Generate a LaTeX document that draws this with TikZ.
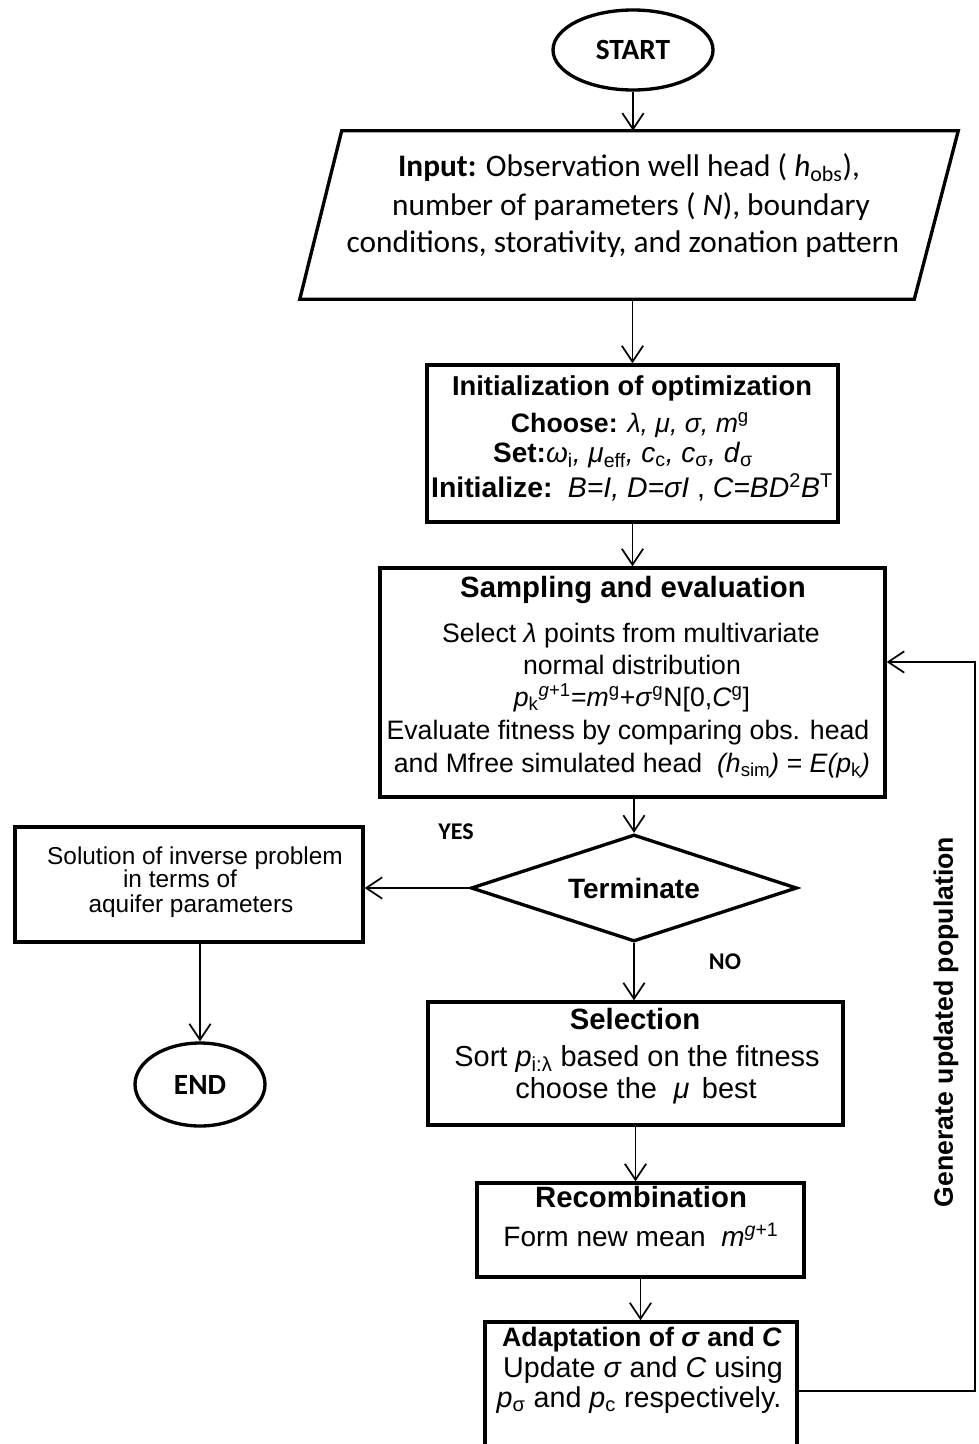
\documentclass[tikz,border=0pt]{standalone}
\usepackage{fontspec}
\setmainfont{Liberation Sans}
\newfontfamily\calibri{Carlito}
\usetikzlibrary{arrows.meta,shapes.geometric}
\newcommand\setfs[1]{\fontsize{#1}{#1}\selectfont}
\begin{document}
\begin{tikzpicture}[x=0.75pt,y=-0.75pt,
  box/.style={draw, line width=2.5pt, rectangle, inner sep=0pt},
  oval/.style={draw, ellipse, line width=2.5pt, inner sep=0pt, font=\calibri\bfseries\setfs{22}},
  txt/.style={inner sep=0pt, text height=0.72em, text depth=0pt},
  arr/.style={line width=1.3pt, -{Straight Barb[length=12pt,width=16pt]}},
  lbl/.style={txt, font=\calibri\bfseries\setfs{18}},
]
\useasboundingbox (0,0) rectangle (978,1444);
\clip (0,0) rectangle (978,1444);

% START
\node[oval, minimum width=120pt, minimum height=60pt] (start) at (633,50) {START};

% Input parallelogram
\node[inner sep=0pt, minimum width=493.5pt, minimum height=126pt] (input) at (629,215) {};
\draw[line width=2.5pt] ([xshift=31.5pt]input.north west) -- (input.north east)
  -- ([xshift=-33pt]input.south east) -- (input.south west) -- cycle;
\node[txt, font=\calibri\setfs{23.5}] (in1) at (629,172) {\textbf{Input:} Observation well head ( \textit{h}\textsubscript{obs}),};
\node[txt, font=\calibri\setfs{23.5}] (in2) at (631,211) {number of parameters ( \textit{N}), boundary};
\node[txt, font=\calibri\setfs{23.5}] (in3) at (623,248) {conditions, storativity, and zonation pattern};

% Initialization
\node[box, minimum width=308.25pt, minimum height=117.75pt] (init) at (632.5,443.5) {};
\node[txt, font=\bfseries\setfs{20.5}] (it1) at (632,391) {Initialization of optimization};
\node[txt, font=\setfs{20}] (it2) at (630,428) {\textbf{Choose:} \textit{λ, μ, σ, m}\textsuperscript{g}};
\node[txt, font=\setfs{21}] (it3) at (623,458) {\textbf{Set:}\textit{ω}\textsubscript{i}\textit{, μ}\textsubscript{eff}\textit{, c}\textsubscript{c}\textit{, c}\textsubscript{σ}\textit{, d}\textsubscript{σ}};
\node[txt, font=\setfs{21.3}] (it4) at (632,493) {\textbf{Initialize:}\, \textit{B=I, D=σI} , \textit{C=BD}\textsuperscript{2}\textit{B}\textsuperscript{T}};

% Sampling
\node[box, minimum width=378.75pt, minimum height=171.75pt] (samp) at (632.5,682.5) {};
\node[txt, font=\bfseries\setfs{22}] (sa1) at (633,593) {Sampling and evaluation};
\node[txt, font=\setfs{20}] (sa2) at (631,638) {Select \textit{λ} points from multivariate};
\node[txt, font=\setfs{20}] (sa3) at (632,670) {normal distribution};
\node[txt, font=\setfs{20}] (sa4) at (632,702) {\textit{p}\textsubscript{k}\textsuperscript{\textit{g}+1}=\textit{m}\textsuperscript{g}+\textit{σ}\textsuperscript{g}N[0,\textit{C}\textsuperscript{g}]};
\node[txt, font=\setfs{20}] (sa5) at (628,735) {Evaluate fitness by comparing obs. head};
\node[txt, font=\setfs{20}] (sa6) at (632,768) {and Mfree simulated head\ \ \textit{(h}\textsubscript{sim}\textit{)} = \textit{E(p}\textsubscript{k}\textit{)}};

% Terminate
\node[draw, diamond, aspect=3, line width=2.5pt, inner sep=0pt,
  minimum width=244.5pt, minimum height=80.25pt, font=\bfseries\setfs{21}] (term) at (634,888) {Terminate};

% Solution
\node[box, minimum width=261pt, minimum height=86.25pt] (sol) at (189,884.5) {};
\node[txt, font=\setfs{18.3}] (so1) at (195,860) {Solution of inverse problem};
\node[txt, font=\setfs{18.3}] (so2) at (180,883) {in terms of};
\node[txt, font=\setfs{18.3}] (so3) at (191,908) {aquifer parameters};

\node[lbl] (yes) at (456,835) {YES};
\node[lbl] (no) at (725,965) {NO};

% END
\node[oval, minimum width=97.5pt, minimum height=62.25pt] (end) at (200,1084.5) {END};

% Selection
\node[box, minimum width=311.25pt, minimum height=92.25pt] (sel) at (635.5,1063.5) {};
\node[txt, font=\bfseries\setfs{22}] (se1) at (635,1025) {Selection};
\node[txt, font=\setfs{21.7}] (se2) at (637,1062) {Sort \textit{p}\textsubscript{i:λ} based on the fitness};
\node[txt, font=\setfs{21.7}] (se3) at (636,1094) {choose the\hspace{0.3em} \textit{μ}\hspace{0.15em} best};

% Recombination
\node[box, minimum width=245.25pt, minimum height=70.5pt] (rec) at (640.5,1230) {};
\node[txt, font=\bfseries\setfs{22}] (re1) at (641,1203) {Recombination};
\node[txt, font=\setfs{21}] (re2) at (641,1242) {Form new mean\ \ \textit{m}\textsuperscript{\textit{g}+1}};

% Adaptation
\node[box, minimum width=234pt, minimum height=103.5pt] (adapt) at (641,1391) {};
\node[txt, font=\bfseries\setfs{20}] (ad1) at (642,1342) {Adaptation of \textit{σ} and \textit{C}};
\node[txt, font=\setfs{21.5}] (ad2) at (643,1373) {Update \textit{σ} and \textit{C} using};
\node[txt, font=\setfs{21.5}] (ad3) at (639,1403) {\textit{p}\textsubscript{σ} and \textit{p}\textsubscript{c} respectively.};

% feedback label
\node[txt, rotate=90, font=\bfseries\setfs{20}] (gen) at (948,1022) {Generate updated population};

% connectors
\draw[arr] (start.south) -- (start.south |- input.north);
\draw[arr] (init.north |- input.south) -- (init.north);
\draw[arr] (init.south) -- (init.south |- samp.north);
\draw[arr] (term.north |- samp.south) -- (term.north);
\draw[arr] (term.south) -- (term.south |- sel.north);
\draw[arr] (term.west) -- (term.west -| sol.east);
\draw[arr] (end.north |- sol.south) -- (end.north);
\draw[arr] (sel.south) -- (sel.south |- rec.north);
\draw[arr] (rec.south) -- (rec.south |- adapt.north);
\coordinate (fbb) at (975,1391);
\coordinate (fbt) at (975,662);
\draw[arr] (adapt.east) -- (fbb) -- (fbt) -- (fbt -| samp.east);
\end{tikzpicture}
\end{document}
